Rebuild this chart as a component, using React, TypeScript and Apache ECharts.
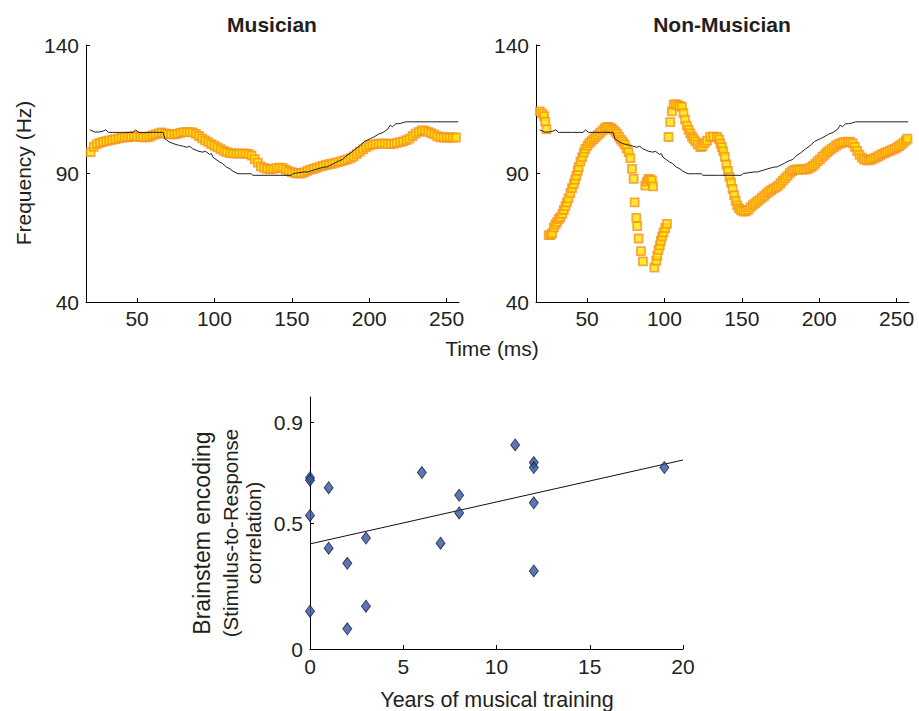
import React, { useEffect, useRef } from "react";
import * as echarts from "echarts";

// ---------- data ----------
const xTicksTime = [50, 100, 150, 200, 250];
const yTicksFreq = [40, 90, 140];
const xTicksYears = [0, 5, 10, 15, 20];
const yTicksCorr = [0, 0.5, 0.9];

// stimulus F0 (same for both panels)
const stimT = [19.5, 22.7, 26, 28, 29.8, 31.5, 35, 40, 45, 47.5, 49, 51, 55, 60, 66.8, 68, 71, 74, 77.5, 80,
  82, 84, 86, 88.3, 90, 92.6, 94, 96.9, 98, 99.1, 101, 103.4, 105, 107.7, 110, 111.9, 115.2, 120, 123.8, 124.8,
  135, 149.5, 151, 157.8, 160, 165, 170, 172.8, 176, 180, 183, 185.8, 188, 191, 194, 197, 200.9, 203, 206, 209,
  212, 213.5, 215, 217, 219, 221, 223.5, 240, 257.5];
const stimF = [107, 106.1, 106.2, 106.5, 107, 106.0, 106.0, 106.0, 106.0, 106.0, 107, 106, 106, 106, 106, 103.5, 102.2, 101.5, 100.9, 100.6,
  100.2, 100.6, 99.6, 99.0, 98.6, 98.3, 98.7, 97.4, 97.8, 96.3, 95.5, 94.4, 94.0, 92.5, 91.8, 90.9, 89.9, 89.9, 89.9, 89.3,
  89.3, 89.3, 90.0, 90.6, 90.6, 91.5, 92.4, 92.6, 93.5, 94.8, 95.5, 97.2, 98.0, 99.5, 100.8, 102.5, 103.6, 104.2, 105.3, 106.0,
  107.3, 108.8, 108.2, 109.3, 109.4, 109.6, 110.1, 110.1, 110.1];

// musician response
const musT = [20, 22, 24, 26, 28, 30, 32, 34, 36, 38,
  40, 42, 44, 46, 48, 50, 52, 54, 56, 58,
  60, 62, 64, 66, 68, 70, 72, 74, 76, 78,
  80, 82, 84, 86, 88, 90, 92, 94, 96, 98,
  100, 102, 104, 106, 108, 110, 112, 114, 116, 118,
  120, 122, 124, 126, 128, 130, 132, 134, 136, 138,
  140, 142, 144, 146, 148, 150, 152, 154, 156, 158,
  160, 162, 164, 166, 168, 170, 172, 174, 176, 178,
  180, 182, 184, 186, 188, 190, 192, 194, 196, 198,
  200, 202, 204, 206, 208, 210, 212, 214, 216, 218,
  220, 222, 224, 226, 228, 230, 232, 234, 236, 238,
  240, 242, 244, 246, 248, 250, 252, 254, 256];
const musF = [98.3, 100.4, 101.4, 101.9, 102.3, 102.6, 102.9, 103.1, 103.4, 103.7,
  104.0, 104.1, 104.1, 104.3, 104.6, 104.3, 104.2, 104.1, 104.1, 104.3,
  104.8, 105.2, 105.6, 106.0, 105.6, 105.3, 105.2, 105.2, 105.4, 105.8,
  106.1, 106.1, 106.1, 106.0, 105.4, 104.6, 103.7, 102.9, 102.2, 101.4,
  100.8, 100.2, 99.5, 98.8, 98.3, 97.9, 97.8, 97.7, 97.7, 97.8,
  97.7, 97.6, 97.0, 95.6, 94.2, 92.8, 92.2, 91.8, 91.6, 91.8,
  92.1, 92.3, 92.2, 91.5, 90.9, 90.5, 90.2, 90.0, 90.1, 90.4,
  91.0, 91.5, 91.8, 92.2, 92.7, 93.0, 93.3, 93.6, 93.8, 94.1,
  94.4, 94.8, 95.1, 95.5, 96.0, 96.7, 97.6, 98.5, 99.4, 100.2,
  100.9, 101.2, 101.4, 101.6, 101.6, 101.7, 101.5, 101.4, 101.6, 101.9,
  102.2, 102.5, 103.0, 103.6, 104.6, 105.5, 106.2, 106.8, 106.7, 106.2,
  105.7, 105.2, 104.5, 104.1, 104.0, 104.0, 104.0, 104.0, 104.0];

// non-musician response
const nmT = [19.5, 21, 22.2, 23, 23.8, 25.2, 26.4, 27.4, 28.5, 29.6, 30.7, 31.8, 32.8, 34, 35, 36, 37, 38, 39.2, 40.3,
  41.4, 42.3, 43.1, 44, 44.6, 45.7, 46.8, 47.9, 48.9, 50.2, 51.5, 52.8, 54.2, 55.5, 57, 58.5, 60, 61.5, 62.9, 64.3,
  65.7, 67, 68.3, 69.4, 70.6, 71.8, 73, 74.2, 75.5, 76.8, 77.9, 79, 80.1, 80.7, 81.8, 82.4, 83.3, 84.8, 86.1, 87.6,
  88.7, 89.7, 90.8, 91.9, 92.6, 93.4, 94.7, 95.4, 96.2, 97, 97.7, 98.5, 99.4, 100.5, 101.6, 102.6, 103.7, 104.8, 105.9, 107.2,
  108.5, 109.8, 111.3, 112.3, 113.3, 114.5, 115.6, 116.7, 117.8, 118.8, 120, 121.5, 123.1, 124.5, 126, 127.5, 129.5, 131.5, 133.9, 135.3,
  136.2, 137.1, 138, 139, 140, 141, 142, 143, 144, 145, 146, 147, 148.2, 149.5, 151, 152.5, 154, 155.5, 157, 158.5,
  160, 161.5, 163, 164.5, 166, 167.5, 169, 170.5, 172, 173.5, 175, 176.5, 178, 179.5, 181, 182.5, 184, 185.5, 187, 188.5,
  190, 191.5, 193, 194.5, 196, 197.5, 199, 200.5, 202, 203.5, 205, 206.5, 208, 209.5, 211, 212.5, 214, 215.5, 217, 218.5,
  220, 221.5, 223, 224.5, 226, 227.5, 229, 230.5, 232, 233.5, 235, 236.5, 238, 239.5, 241, 242.5, 244, 245.5, 247, 248.5,
  250, 251.5, 253, 254.5, 256, 257];
const nmF = [114.2, 113.3, 112.3, 110.2, 107.2, 66, 66, 66.8, 69, 70.2, 71.2, 72.3, 73, 74.3, 75.8, 77.3, 78.8, 80.3, 82.5, 84.3,
  86, 87.6, 89.2, 91, 92.5, 94.6, 96.4, 98.2, 99.6, 100.8, 101.8, 102.6, 103.4, 104.2, 105, 105.9, 106.8, 107.6, 108.1, 108,
  107.6, 107, 106.2, 105.4, 104.3, 103.2, 102.4, 101.3, 99.8, 98.3, 96, 91.8, 87.9, 78.8, 72.7, 69.5, 64.7, 59.8, 55.8, 85.3,
  86.8, 87.9, 87.6, 87.3, 85, 53.4, 56, 58, 60.3, 62, 63.8, 65.5, 67.1, 68.8, 70.4, 104.2, 110, 114.2, 116.8, 117,
  116.7, 116.3, 115.9, 113.5, 111, 108.6, 107, 105.6, 104.3, 103.5, 102.5, 101.3, 100.3, 100.6, 101.8, 102.8, 104.2, 104.4, 104.2, 103.3,
  101.6, 100.3, 98.6, 96.5, 93.5, 91, 88.7, 86.5, 84, 81.6, 79.4, 77.6, 76.4, 75.7, 75.2, 75.3, 75.8, 76.8, 77.7, 78.4,
  79.1, 79.8, 80.6, 81.3, 82.2, 82.9, 83.5, 84.1, 84.6, 85.3, 86.2, 87.2, 88.1, 89.1, 90.1, 90.9, 91.4, 91.6, 91.6, 91.5,
  91.5, 91.6, 91.9, 92.4, 93, 93.8, 94.7, 95.5, 96.5, 97.3, 98.2, 98.9, 99.6, 100.2, 100.9, 101.4, 101.8, 102.1, 102.3, 102.4,
  102.3, 101.7, 100.4, 98.8, 97.3, 96.2, 95.5, 95.1, 95.1, 95.4, 95.8, 96.2, 96.7, 97.1, 97.6, 98, 98.4, 98.8, 99.2, 99.6,
  100, 100.6, 101.2, 102, 102.9, 103.6];

// years of training vs. brainstem encoding
const years = [0, 0, 0, 0, 1, 1, 2, 2, 3, 3, 6, 7, 8, 8, 11, 12, 12, 12, 12, 19];
const corr = [0.68, 0.67, 0.53, 0.15, 0.64, 0.40, 0.34, 0.08, 0.44, 0.17, 0.70, 0.42, 0.61, 0.54, 0.81, 0.74, 0.72, 0.58, 0.31, 0.72];
const fitX = [0, 20];
const fitY = [0.417, 0.75];

// ---------- styles ----------
const FONT = "'Liberation Sans', Arial, Helvetica, sans-serif";
const TXT = "#231f20";
const TICK_FS = 21;

function timeAxis(gridIndex: number) {
  return {
    type: "value", gridIndex, min: 17, max: 258,
    axisLine: { show: true, onZero: false, lineStyle: { color: "#000", width: 1 } },
    axisTick: { show: true, inside: true, length: 4, customValues: xTicksTime, lineStyle: { color: "#000" } },
    axisLabel: { customValues: xTicksTime, fontSize: TICK_FS, color: TXT, margin: 6, fontFamily: FONT },
    splitLine: { show: false },
  };
}
function freqAxis(gridIndex: number) {
  return {
    type: "value", gridIndex, min: 40, max: 140,
    axisLine: { show: true, onZero: false, lineStyle: { color: "#000", width: 1 } },
    axisTick: { show: true, inside: true, length: 4, customValues: yTicksFreq, lineStyle: { color: "#000" } },
    axisLabel: { customValues: yTicksFreq, fontSize: TICK_FS, color: TXT, margin: 7, fontFamily: FONT },
    splitLine: { show: false },
  };
}

const squareStyle = { color: "#ffe600", borderColor: "#f7931e", borderWidth: 1.8 };

function txt(text: string, x: number, y: number, size: number, opts: any = {}) {
  return {
    type: "text", x, y, rotation: opts.rotation || 0, silent: true,
    style: {
      text, fill: TXT, fontSize: size, fontFamily: FONT, fontWeight: opts.bold ? "bold" : "normal",
      align: "center", verticalAlign: "middle",
    },
  };
}

export default function App() {
  const ref = useRef<HTMLDivElement>(null);
  useEffect(() => {
    if (!ref.current) return;
    const chart = echarts.init(ref.current, null, { renderer: "svg" });
    const option: any = {
      animation: false,
      backgroundColor: "#ffffff",
      textStyle: { fontFamily: FONT },
      grid: [
        { left: 86, top: 45, width: 373, height: 257 },
        { left: 536, top: 45, width: 373, height: 257 },
        { left: 310, top: 397, width: 373, height: 252 },
      ],
      xAxis: [
        timeAxis(0),
        timeAxis(1),
        {
          type: "value", gridIndex: 2, min: 0, max: 20, interval: 5,
          axisLine: { show: true, onZero: false, lineStyle: { color: "#000", width: 1 } },
          axisTick: { show: true, inside: true, length: 4, customValues: xTicksYears, lineStyle: { color: "#000" } },
          axisLabel: { customValues: xTicksYears, fontSize: TICK_FS, color: TXT, margin: 7, fontFamily: FONT },
          splitLine: { show: false },
        },
      ],
      yAxis: [
        freqAxis(0),
        freqAxis(1),
        {
          type: "value", gridIndex: 2, min: 0, max: 1,
          axisLine: { show: true, onZero: false, lineStyle: { color: "#000", width: 1 } },
          axisTick: { show: true, inside: true, length: 4, customValues: [0.5, 0.9], lineStyle: { color: "#000" } },
          axisLabel: { customValues: yTicksCorr, fontSize: TICK_FS, color: TXT, margin: 7, fontFamily: FONT },
          splitLine: { show: false },
        },
      ],
      series: [
        {
          type: "scatter", xAxisIndex: 0, yAxisIndex: 0, symbol: "rect", symbolSize: 8,
          itemStyle: squareStyle, silent: true,
          data: musT.map((t, i) => [t, musF[i]]),
        },
        {
          type: "line", xAxisIndex: 0, yAxisIndex: 0, showSymbol: false, silent: true,
          lineStyle: { color: "#222", width: 1 },
          data: stimT.map((t, i) => [t, stimF[i]]), z: 3,
        },
        {
          type: "scatter", xAxisIndex: 1, yAxisIndex: 1, symbol: "rect", symbolSize: 8,
          itemStyle: squareStyle, silent: true,
          data: nmT.map((t, i) => [t, nmF[i]]),
        },
        {
          type: "line", xAxisIndex: 1, yAxisIndex: 1, showSymbol: false, silent: true,
          lineStyle: { color: "#222", width: 1 },
          data: stimT.map((t, i) => [t, stimF[i]]), z: 3,
        },
        {
          type: "line", xAxisIndex: 2, yAxisIndex: 2, showSymbol: false, silent: true,
          lineStyle: { color: "#111", width: 1 },
          data: fitX.map((x, i) => [x, fitY[i]]),
        },
        {
          type: "scatter", xAxisIndex: 2, yAxisIndex: 2, symbol: "diamond", symbolSize: [9, 12],
          itemStyle: { color: "#34529c", borderColor: "#101a40", borderWidth: 0.9 }, silent: true,
          data: years.map((x, i) => [x, corr[i]]), z: 4,
        },
      ],
      graphic: [
        txt("Musician", 272, 24, 21, { bold: true }),
        txt("Non-Musician", 722, 24, 21, { bold: true }),
        txt("Frequency (Hz)", 23, 173, 21, { rotation: Math.PI / 2 }),
        txt("Time (ms)", 492, 348, 21),
        txt("Brainstem encoding", 202, 533, 23, { rotation: Math.PI / 2 }),
        txt("(Stimulus-to-Response", 230, 533, 20.5, { rotation: Math.PI / 2 }),
        txt("correlation)", 253, 533, 20.5, { rotation: Math.PI / 2 }),
        txt("Years of musical training", 497, 700, 21.5),
      ],
    };
    chart.setOption(option);
    return () => chart.dispose();
  }, []);
  return (
    <div
      ref={ref}
      style={{ position: "absolute", left: 0, top: 0, width: 919, height: 711, background: "#fff" }}
    />
  );
}
